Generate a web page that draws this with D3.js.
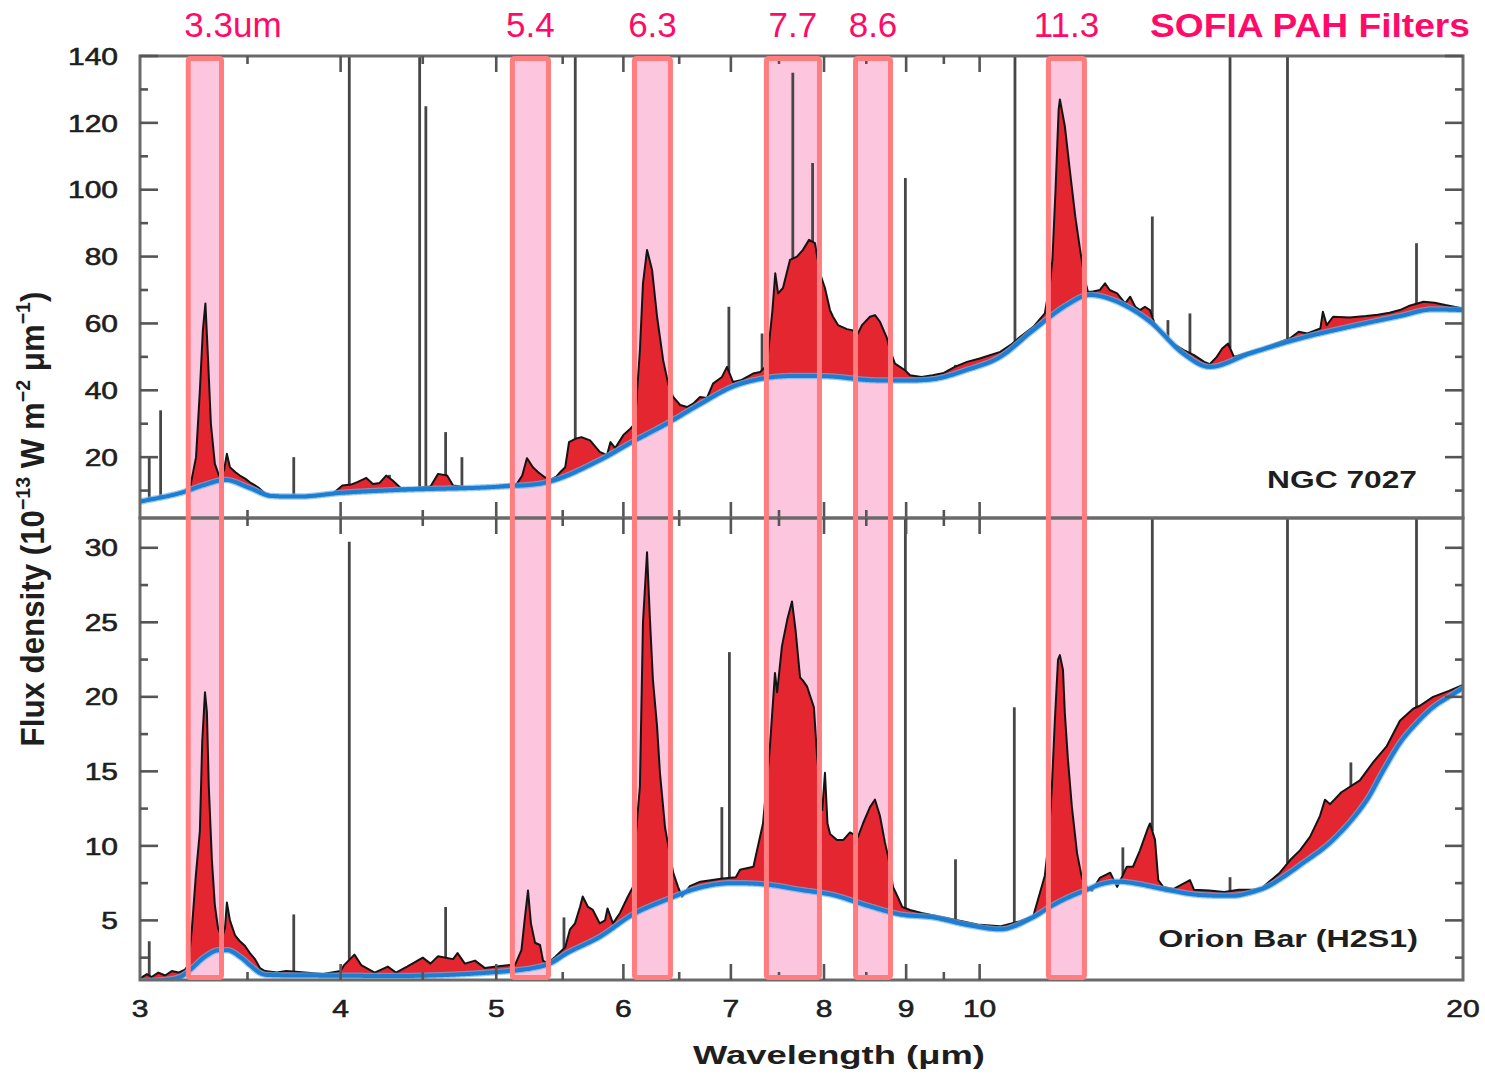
<!DOCTYPE html>
<html>
<head>
<meta charset="utf-8">
<script src="https://cdn.jsdelivr.net/npm/d3@7"></script>
<style>
  body { margin: 0; background: #fff; }
  svg { display: block; font-family: "Liberation Sans", Arial, Helvetica, sans-serif; }
</style>
</head>
<body>
<svg id="chart" width="1485" height="1074"></svg>
<script>
// ---------------- data ----------------
// SOFIA PAH filter pass bands (micron)
const filterNames = ["3.3um", "5.4", "6.3", "7.7", "8.6", "11.3"];
const filterLo = [3.215, 5.117, 6.096, 7.366, 8.370, 11.037];
const filterHi = [3.372, 5.389, 6.419, 7.948, 8.800, 11.622];

// x axis ticks (micron)
const xMajorTicks = [3, 4, 5, 6, 7, 8, 9, 10, 20];
const xMinorTicks = [3.5, 4.5, 5.5, 6.5, 7.5, 8.5, 9.5];

// NGC 7027 — y ticks
const ngcMajorTicks = [20, 40, 60, 80, 100, 120, 140];
const ngcMinorTicks = [10, 30, 50, 70, 90, 110, 130];
// NGC 7027 — underlying continuum
const ngcContWl = [3.0, 3.18, 3.29, 3.39, 3.51, 3.62, 3.77, 4.0, 4.35, 5.03, 5.4, 5.8, 6.08, 6.39, 6.70, 7.02, 7.37, 7.73, 8.10, 8.50, 8.92, 9.35, 9.82, 10.30, 10.80, 11.33, 11.71, 12.18, 12.77, 13.39, 13.91, 14.73, 15.83, 17.0, 18.27, 19.16, 20.0];
const ngcContFlux = [6.7, 9.3, 11.7, 13.2, 10.8, 8.4, 8.2, 9.3, 10.2, 11.2, 12.7, 19.1, 24.6, 30.1, 35.9, 41.1, 43.7, 44.3, 44.1, 43.1, 42.9, 43.3, 46.1, 50, 58, 65.5, 68.5, 66.5, 60.5, 51, 47, 51, 55.5, 59, 62.2, 64.2, 64];
// NGC 7027 — observed spectrum
const ngcSpecWl = [3.00, 3.05, 3.10, 3.15, 3.20, 3.223, 3.251, 3.269, 3.283, 3.295, 3.307, 3.321, 3.340, 3.360, 3.384, 3.398, 3.413, 3.440, 3.462, 3.490, 3.512, 3.553, 3.589, 3.62, 3.70, 3.80, 3.90, 3.96,
  4.01, 4.06, 4.10, 4.15, 4.19, 4.23, 4.27, 4.31, 4.36, 4.45, 4.55, 4.60, 4.66, 4.70, 4.80, 4.90, 5.00, 5.10, 5.15, 5.19, 5.225, 5.27, 5.31, 5.36, 5.40, 5.45, 5.48, 5.52, 5.55, 5.60, 5.65, 5.72, 5.80, 5.86, 5.89, 5.93,
  6.00, 6.06, 6.10, 6.144, 6.171, 6.207, 6.252, 6.297, 6.352, 6.398, 6.444, 6.509, 6.574, 6.631, 6.697, 6.764, 6.823, 6.911, 6.961, 7.021, 7.10, 7.226, 7.30, 7.372, 7.39, 7.43, 7.46, 7.49, 7.543, 7.619, 7.696, 7.762, 7.83, 7.897, 7.954,
  8.011, 8.069, 8.104, 8.162, 8.268, 8.327, 8.399, 8.448, 8.545, 8.607, 8.669, 8.756, 8.794, 8.857, 8.921, 8.985, 9.05, 9.20, 9.35, 9.50, 9.65, 9.82, 10.0, 10.3, 10.45, 10.6, 10.8, 10.98,
  11.06, 11.10, 11.15, 11.20, 11.22, 11.25, 11.30, 11.38, 11.47, 11.55, 11.63, 11.68, 11.75, 11.88, 11.97, 12.05, 12.18, 12.32, 12.41, 12.50, 12.585, 12.675, 12.767, 12.85, 13.0, 13.2, 13.4, 13.6, 13.8, 13.91,
  14.05, 14.16, 14.28, 14.40, 14.73, 15.0, 15.3, 15.6, 15.8, 16.0, 16.30, 16.36, 16.45, 16.60, 17.0, 17.4, 17.7, 18.0, 18.27, 18.5, 18.9, 19.2, 19.5, 20.0];
const ngcSpecFlux = [7.0, 7.5, 8.1, 8.9, 9.9, 10.8, 20, 40, 58, 66, 50, 30, 18, 14.5, 16, 21, 17, 15.5, 14.5, 13.5, 12.5, 11, 9.2, 8.6, 8.3, 8.4, 8.9, 9.3,
  11.5, 11.8, 12.6, 13.8, 12.0, 12.3, 14.5, 13.0, 10.8, 10.8, 11.2, 15.0, 14.5, 11.5, 11.0, 11.0, 11.3, 11.8, 12.0, 14.5, 19.7, 17.0, 15.5, 14.0, 13.2, 14.2, 15.5, 17.0, 24.5, 25.5, 26.0, 25.0, 21.6, 20.6, 24.5, 22.7,
  26.6, 28.5, 30, 52, 72, 82, 76, 62, 49, 42, 38, 35.6, 35, 36, 38, 37.7, 42, 44, 47, 42.5, 43, 45, 45.5, 47.5, 53, 64, 75, 69, 70.6, 79, 80, 82, 85, 84, 75,
  70.6, 64, 62, 59.5, 58.3, 58, 57, 59.5, 62, 62.5, 60.5, 55.6, 52, 48, 47, 46, 44.5, 44, 44.5, 45.2, 47, 48.5, 49.5, 51.5, 53.5, 56, 59, 63,
  72, 79, 100, 124, 127, 124, 119, 106, 92, 82, 73, 69.5, 69.5, 70, 72, 70, 69, 66, 68, 65, 64, 65, 64, 60, 57, 54, 52, 50.5, 48.5, 47.8,
  50, 52.5, 54, 50, 51.5, 52.5, 54, 55.5, 57.5, 57, 58.5, 63.5, 59.5, 62, 61.8, 62.2, 62.6, 63.2, 64, 65.2, 66.5, 66.2, 65.5, 64.5];
// NGC 7027 — atomic emission lines (wavelength, peak flux)
const ngcLineWl = [3.04, 3.09, 3.74, 4.05, 4.29, 4.48, 4.52, 4.65, 4.76, 5.60, 6.98, 7.32, 7.65, 7.87, 8.99, 9.66, 10.52, 12.81, 13.10, 13.52, 14.32, 15.55, 18.71];
const ngcLinePeak = [20, 34, 20, 150, 14.7, 150, 125, 27.5, 20, 150, 65, 57, 135, 108, 103.5, 47.6, 150, 92, 61, 63, 150, 150, 84];

// Orion Bar (H2S1) — y ticks
const orionMajorTicks = [5, 10, 15, 20, 25, 30];
const orionMinorTicks = [2.5, 7.5, 12.5, 17.5, 22.5, 27.5];
// Orion Bar — underlying continuum
const orionContWl = [3.0, 3.177, 3.223, 3.293, 3.36, 3.40, 3.462, 3.512, 3.563, 3.60, 3.774, 4.355, 5.027, 5.27, 5.40, 5.534, 5.802, 6.083, 6.387, 6.697, 7.021, 7.372, 7.729, 8.104, 8.508, 8.921, 9.353, 9.82, 10.296, 10.795, 11.06, 11.334, 11.66, 11.88, 12.177, 12.46, 13.08, 13.72, 14.38, 14.73, 15.10, 15.45, 15.83, 16.60, 17.43, 17.83, 18.27, 18.7, 19.16, 19.6, 20.0];
const orionContFlux = [0.9, 1.2, 1.67, 2.56, 3.0, 3.0, 2.56, 2.0, 1.47, 1.34, 1.3, 1.27, 1.55, 1.8, 2.1, 2.8, 3.9, 5.4, 6.4, 7.2, 7.5, 7.4, 7.05, 6.7, 6.0, 5.4, 5.2, 4.7, 4.4, 5.2, 5.9, 6.5, 7.05, 7.4, 7.6, 7.5, 7.05, 6.7, 6.65, 6.85, 7.25, 7.9, 8.7, 10.4, 13.1, 15.0, 16.9, 18.2, 19.3, 20.0, 20.6];
// Orion Bar — observed spectrum
const orionSpecWl = [3.00, 3.03, 3.05, 3.08, 3.11, 3.14, 3.17, 3.20, 3.215, 3.232, 3.25, 3.269, 3.28, 3.293, 3.302, 3.311, 3.326, 3.34, 3.355, 3.374, 3.389, 3.398, 3.413, 3.438, 3.462, 3.487, 3.512, 3.538, 3.563, 3.589, 3.65, 3.70, 3.80, 3.90,
  4.00, 4.02, 4.08, 4.12, 4.20, 4.28, 4.33, 4.40, 4.45, 4.50, 4.55, 4.60, 4.70, 4.73, 4.78, 4.85, 4.92, 5.00, 5.10, 5.136, 5.184, 5.21, 5.233, 5.255, 5.286, 5.324, 5.347, 5.38, 5.44, 5.52, 5.558, 5.598, 5.638, 5.66, 5.703, 5.743, 5.80, 5.844, 5.865, 5.911, 5.971,
  6.039, 6.083, 6.10, 6.144, 6.171, 6.207, 6.233, 6.26, 6.297, 6.323, 6.37, 6.444, 6.489, 6.526, 6.60, 6.70, 6.80, 6.90, 7.05, 7.092, 7.23, 7.267, 7.33, 7.40, 7.457, 7.48, 7.532, 7.59, 7.641, 7.68, 7.73, 7.76, 7.807, 7.846, 7.885, 7.919, 7.954, 7.98,
  8.011, 8.04, 8.07, 8.15, 8.225, 8.304, 8.40, 8.46, 8.545, 8.607, 8.669, 8.731, 8.77, 8.832, 8.89, 8.95, 9.05, 9.20, 9.35, 9.50, 9.80, 10.0, 10.3, 10.6, 10.8, 10.98,
  11.03, 11.09, 11.14, 11.19, 11.22, 11.27, 11.30, 11.35, 11.415, 11.50, 11.58, 11.68, 11.75, 11.88, 12.06, 12.18, 12.35, 12.46, 12.585, 12.72, 12.767, 12.86, 12.92, 13.01, 13.2, 13.52, 13.6, 13.9,
  14.2, 14.5, 14.8, 15.0, 15.38, 15.61, 15.83, 16.06, 16.29, 16.41, 16.53, 16.80, 17.25, 17.58, 17.93, 18.27, 18.62, 18.80, 19.16, 19.60, 20.0];
const orionSpecFlux = [1.1, 1.4, 1.2, 1.5, 1.3, 1.6, 1.5, 1.7, 2.0, 4.5, 8, 11, 17, 20.3, 19, 14, 9, 6, 4.5, 3.8, 4.5, 6.2, 5.0, 4.0, 3.6, 3.3, 2.8, 2.4, 1.8, 1.6, 1.5, 1.6, 1.5, 1.4,
  1.6, 2.0, 2.7, 2.0, 1.5, 1.9, 1.5, 1.9, 2.2, 2.5, 2.1, 2.6, 2.4, 2.8, 2.1, 2.3, 1.8, 1.9, 2.0, 2.0, 3.0, 5.2, 7.0, 4.8, 3.5, 3.35, 2.3, 2.1, 2.55, 3.2, 4.4, 4.8, 5.9, 6.6, 5.9, 5.7, 4.8, 5.0, 5.8, 4.8, 5.5,
  6.6, 7.25, 10, 14, 25, 29.7, 25.2, 21.1, 18, 14.9, 11.2, 8.2, 7.25, 6.6, 7.3, 7.6, 7.7, 7.8, 7.9, 8.4, 8.6, 9.7, 11.5, 16.4, 21.6, 20.3, 23.4, 25.2, 26.4, 24.5, 21.3, 21.1, 20.7, 20.0, 19.3, 16.2, 13.8, 12.4,
  14.9, 11.5, 10.8, 10.4, 10.4, 10.9, 10.6, 11.5, 12.6, 13.1, 12.0, 10.2, 9.3, 7.25, 6.6, 5.9, 5.7, 5.5, 5.35, 5.2, 4.9, 4.7, 4.6, 4.95, 5.3, 8.0,
  9.9, 13.8, 18.5, 22.5, 22.8, 21.8, 18.9, 15.8, 12.6, 9.5, 7.85, 7.1, 7.0, 7.85, 8.2, 7.25, 8.6, 8.6, 9.7, 11.1, 11.5, 10.4, 7.7, 7.25, 7.1, 7.7, 7.05, 7.0,
  6.9, 7.05, 7.05, 7.2, 8.2, 9.05, 9.7, 10.6, 12.0, 13.1, 12.8, 13.6, 14.4, 15.6, 16.7, 18.4, 19.2, 19.4, 20.0, 20.4, 20.8];
// Orion Bar — atomic / H2 emission lines (wavelength, peak flux)
const orionLineWl = [3.04, 3.74, 4.05, 4.65, 5.51, 6.91, 6.985, 8.99, 9.66, 10.51, 12.28, 12.81, 14.32, 15.55, 17.03, 18.71];
const orionLinePeak = [3.6, 5.4, 30.4, 5.9, 5.2, 12.6, 23, 40, 9.1, 19.3, 9.9, 40, 7.9, 40, 15.6, 40];

// ---------------- layout ----------------
const svg = d3.select("#chart");
const plotLeft = 140, plotRight = 1463;
const x = d3.scaleLog().domain([3, 20]).range([plotLeft, plotRight]);

const panels = [
  { key: "ngc", title: "NGC 7027",
    y: d3.scaleLinear().domain([1.8, 140]).range([518, 56]),
    major: ngcMajorTicks, minor: ngcMinorTicks,
    contWl: ngcContWl, contFlux: ngcContFlux, specWl: ngcSpecWl, specFlux: ngcSpecFlux,
    lineWl: ngcLineWl, linePeak: ngcLinePeak,
    titleRight: 1417, titleBase: 488, titleWidth: 150 },
  { key: "orion", title: "Orion Bar (H2S1)",
    y: d3.scaleLinear().domain([1, 32]).range([980, 518]),
    major: orionMajorTicks, minor: orionMinorTicks,
    contWl: orionContWl, contFlux: orionContFlux, specWl: orionSpecWl, specFlux: orionSpecFlux,
    lineWl: orionLineWl, linePeak: orionLinePeak,
    titleRight: 1418, titleBase: 947, titleWidth: 260 }
];

const C = {
  pinkFill: "#fcc6de", pinkStroke: "#ff7d7f", label: "#ff0a68",
  red: "#e3262f", black: "#141414", blue: "#1c7dd2", blueHalo: "#6fb3ea", lineGray: "#464646",
  frame: "#6a6a6a", tick: "#555", text: "#1e1e1e"
};

// monotone cubic (Fritsch–Carlson) interpolation in log-wavelength
function monotone(xs, ys) {
  const n = xs.length, d = [], m = new Array(n);
  for (let i = 0; i < n - 1; i++) d.push((ys[i + 1] - ys[i]) / (xs[i + 1] - xs[i]));
  m[0] = d[0]; m[n - 1] = d[n - 2];
  for (let i = 1; i < n - 1; i++) m[i] = d[i - 1] * d[i] <= 0 ? 0 : (d[i - 1] + d[i]) / 2;
  for (let i = 0; i < n - 1; i++) {
    if (d[i] === 0) { m[i] = 0; m[i + 1] = 0; continue; }
    const a = m[i] / d[i], b = m[i + 1] / d[i], s = a * a + b * b;
    if (s > 9) { const t = 3 / Math.sqrt(s); m[i] = t * a * d[i]; m[i + 1] = t * b * d[i]; }
  }
  return v => {
    let i = d3.bisectRight(xs, v) - 1;
    i = Math.max(0, Math.min(n - 2, i));
    const h = xs[i + 1] - xs[i], t = (v - xs[i]) / h, t2 = t * t, t3 = t2 * t;
    return (2 * t3 - 3 * t2 + 1) * ys[i] + (t3 - 2 * t2 + t) * h * m[i] +
           (-2 * t3 + 3 * t2) * ys[i + 1] + (t3 - t2) * h * m[i + 1];
  };
}
// piecewise-linear interpolation in log-wavelength
function linear(xs, ys) {
  return v => {
    let i = d3.bisectRight(xs, v) - 1;
    i = Math.max(0, Math.min(xs.length - 2, i));
    const t = (v - xs[i]) / (xs[i + 1] - xs[i]);
    return ys[i] + t * (ys[i + 1] - ys[i]);
  };
}

const defs = svg.append("defs");
const boxTop = 58.5, boxBottom = 977.5;

// layers: band fills < spectra < frames < band outlines < text
const fillLayer = svg.append("g");
const dataLayer = svg.append("g");
const axisLayer = svg.append("g");
const edgeLayer = svg.append("g");
const textLayer = svg.append("g");

// pink filter bands behind the spectra
fillLayer.selectAll("rect").data(filterNames).join("rect")
  .attr("x", (d, i) => x(filterLo[i]))
  .attr("width", (d, i) => x(filterHi[i]) - x(filterLo[i]))
  .attr("y", boxTop).attr("height", boxBottom - boxTop)
  .attr("fill", C.pinkFill);

panels.forEach(p => {
  const [yB, yT] = p.y.range();
  defs.append("clipPath").attr("id", "clip-" + p.key)
    .append("rect").attr("x", plotLeft).attr("y", yT).attr("width", plotRight - plotLeft).attr("height", yB - yT);

  const cont = monotone(p.contWl.map(Math.log), p.contFlux);
  const spec = linear(p.specWl.map(Math.log), p.specFlux);

  // dense common grid for fill and continuum
  const grid = d3.range(0, 1.00001, 1 / 900).map(t => 3 * Math.pow(20 / 3, t))
    .concat(p.specWl).sort((a, b) => a - b)
    .filter((v, i, arr) => i === 0 || v - arr[i - 1] > 1e-6)
    .map(w => ({ w, c: cont(Math.log(w)), s: spec(Math.log(w)) }));

  const g = dataLayer.append("g").attr("clip-path", `url(#clip-${p.key})`);

  // PAH emission above the continuum
  g.append("path").datum(grid)
    .attr("fill", C.red)
    .attr("d", d3.area().x(d => x(d.w)).y0(d => p.y(d.c)).y1(d => p.y(Math.max(d.s, d.c))));

  // unresolved emission lines
  g.selectAll("line.em").data(p.lineWl).join("line").attr("class", "em")
    .attr("x1", w => x(w)).attr("x2", w => x(w))
    .attr("y1", w => p.y(spec(Math.log(w))))
    .attr("y2", (w, i) => p.y(p.linePeak[i]))
    .attr("stroke", C.lineGray).attr("stroke-width", 2.8);

  // observed spectrum
  g.append("path").datum(p.specWl.map((w, i) => [w, p.specFlux[i]]))
    .attr("fill", "none").attr("stroke", C.black).attr("stroke-width", 2)
    .attr("stroke-linejoin", "round")
    .attr("d", d3.line().x(d => x(d[0])).y(d => p.y(d[1])));

  // continuum (soft halo + core)
  const contLine = d3.line().x(d => x(d.w)).y(d => p.y(d.c));
  g.append("path").datum(grid)
    .attr("fill", "none").attr("stroke", C.blueHalo).attr("stroke-width", 6.5).attr("stroke-opacity", 0.7)
    .attr("stroke-linejoin", "round").attr("d", contLine);
  g.append("path").datum(grid)
    .attr("fill", "none").attr("stroke", C.blue).attr("stroke-width", 4)
    .attr("stroke-linejoin", "round").attr("d", contLine);

  // frame and ticks (all pointing inward)
  const ax = axisLayer.append("g");
  ax.append("rect").attr("x", plotLeft).attr("y", yT).attr("width", plotRight - plotLeft).attr("height", yB - yT)
    .attr("fill", "none").attr("stroke", C.frame).attr("stroke-width", 3);
  const yTicks = p.major.map(v => ({ v, len: 18 })).concat(p.minor.map(v => ({ v, len: 8 })));
  ax.selectAll("line.yl").data(yTicks).join("line").attr("class", "yl")
    .attr("x1", plotLeft).attr("x2", d => plotLeft + d.len)
    .attr("y1", d => p.y(d.v)).attr("y2", d => p.y(d.v))
    .attr("stroke", C.tick).attr("stroke-width", 2.6);
  ax.selectAll("line.yr").data(yTicks).join("line").attr("class", "yr")
    .attr("x1", plotRight).attr("x2", d => plotRight - d.len)
    .attr("y1", d => p.y(d.v)).attr("y2", d => p.y(d.v))
    .attr("stroke", C.tick).attr("stroke-width", 2.6);
  const xTicks = xMajorTicks.slice(1, -1).map(v => ({ v, len: 16 })).concat(xMinorTicks.map(v => ({ v, len: 8 })));
  ax.selectAll("line.xt").data(xTicks).join("line").attr("class", "xt")
    .attr("x1", d => x(d.v)).attr("x2", d => x(d.v))
    .attr("y1", yT).attr("y2", d => yT + d.len)
    .attr("stroke", C.tick).attr("stroke-width", 2.6);
  ax.selectAll("line.xb").data(xTicks).join("line").attr("class", "xb")
    .attr("x1", d => x(d.v)).attr("x2", d => x(d.v))
    .attr("y1", yB).attr("y2", d => yB - d.len)
    .attr("stroke", C.tick).attr("stroke-width", 2.6);

  // y tick labels
  textLayer.append("g").selectAll("text").data(p.major).join("text")
    .attr("transform", v => `translate(118,${p.y(v)}) scale(1.25,1)`)
    .attr("dy", "0.36em").attr("text-anchor", "end")
    .attr("font-size", 24).attr("fill", C.text)
    .attr("stroke", C.text).attr("stroke-width", 0.6)
    .text(v => v);
});

// filter band outlines on top
edgeLayer.selectAll("rect").data(filterNames).join("rect")
  .attr("x", (d, i) => x(filterLo[i]))
  .attr("width", (d, i) => x(filterHi[i]) - x(filterLo[i]))
  .attr("y", boxTop).attr("height", boxBottom - boxTop)
  .attr("rx", 2)
  .attr("fill", "none").attr("stroke", C.pinkStroke).attr("stroke-width", 5);

// stretch a text node horizontally to a target width
function fitWidth(sel, width, tx, ty, anchor) {
  const bb = sel.node().getBBox();
  const s = width / bb.width;
  sel.attr("text-anchor", anchor).attr("transform", `translate(${tx},${ty}) scale(${s},1)`);
}

// filter labels
textLayer.append("g").selectAll("text").data(filterNames).join("text")
  .attr("x", (d, i) => i === 0 ? x(filterLo[i]) - 4 : (x(filterLo[i]) + x(filterHi[i])) / 2)
  .attr("text-anchor", (d, i) => i === 0 ? "start" : "middle")
  .attr("y", 37).attr("font-size", 35).attr("fill", C.label)
  .text(d => d);
const sofia = textLayer.append("text")
  .attr("font-size", 34).attr("font-weight", "bold").attr("fill", C.label)
  .text("SOFIA PAH Filters");
fitWidth(sofia, 320, 1470, 37, "end");

// x tick labels
textLayer.append("g").selectAll("text").data(xMajorTicks).join("text")
  .attr("transform", v => `translate(${x(v)},1017) scale(1.25,1)`)
  .attr("text-anchor", "middle").attr("font-size", 24).attr("fill", C.text)
  .attr("stroke", C.text).attr("stroke-width", 0.6)
  .text(v => v);

// panel names
panels.forEach(p => {
  const t = textLayer.append("text").attr("font-size", 24).attr("font-weight", "bold").attr("fill", C.text).text(p.title);
  fitWidth(t, p.titleWidth, p.titleRight, p.titleBase, "end");
});

// axis titles
const xt = textLayer.append("text").attr("font-size", 25).attr("font-weight", "bold").attr("fill", C.text).text("Wavelength (μm)");
fitWidth(xt, 292, 839, 1064, "middle");

const yt = textLayer.append("text").attr("font-size", 24).attr("font-weight", "bold").attr("fill", C.text).attr("text-anchor", "middle");
yt.append("tspan").text("Flux density (10");
yt.append("tspan").attr("font-size", 15).attr("dy", -10).text("−13");
yt.append("tspan").attr("dy", 10).text(" W m");
yt.append("tspan").attr("font-size", 15).attr("dy", -10).text("−2");
yt.append("tspan").attr("dy", 10).text(" μm");
yt.append("tspan").attr("font-size", 15).attr("dy", -10).text("−1");
yt.append("tspan").attr("dy", 10).text(")");
{
  const L = yt.node().getBBox().width;
  yt.attr("transform", `translate(44,519) scale(1.4,1) rotate(-90) scale(${455 / L},1)`);
}
</script>
</body>
</html>
